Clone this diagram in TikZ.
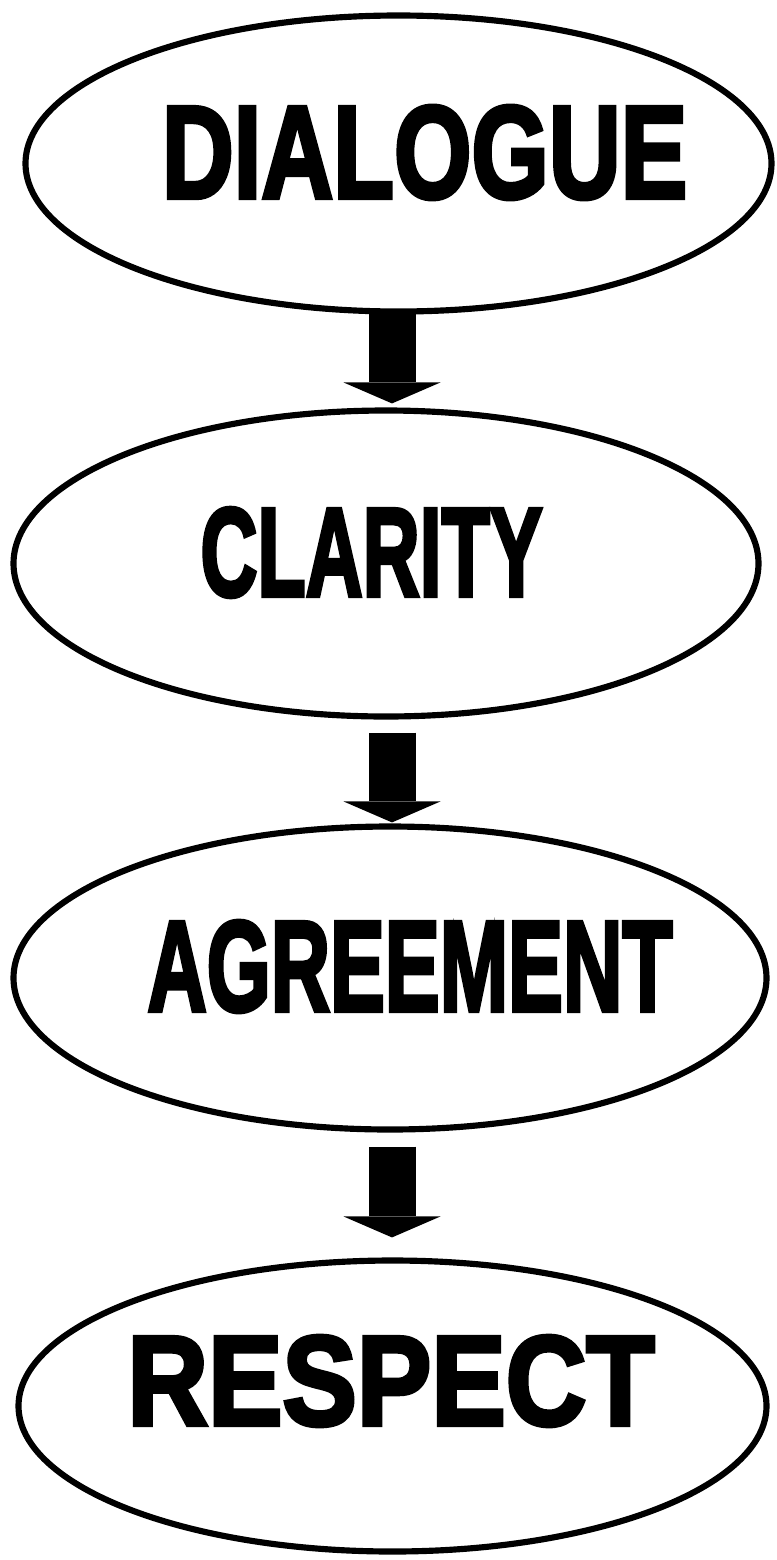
\documentclass[tikz,border=0pt]{standalone}
\usepackage{fontspec}
\setmainfont{Liberation Sans}
\newfontfamily\wordfont[FakeBold=3.5]{Liberation Sans Bold}
\usetikzlibrary{shapes.geometric,arrows.meta}
\newcommand{\fitword}[3]{\resizebox{#1}{#2}{\wordfont #3}}

\begin{document}
\begin{tikzpicture}[oval/.style={ellipse, draw, line width=3.5pt, inner sep=0pt}, word/.style={inner sep=0pt, anchor=center}, flow/.style={line width=0.94cm, -{Triangle[width=1.94cm, length=0.42cm, line width=0pt]}}]
	\useasboundingbox (0,0) rectangle (15.54,-31.2);
	\coordinate (axis) at (7.84,0);
	\node[oval, minimum width=14.92cm, minimum height=5.92cm] (dialogue) at (7.97,-3.27) {};
	\node[oval, minimum width=14.90cm, minimum height=6.12cm] (clarity) at (7.72,-11.27) {};
	\node[oval, minimum width=15.06cm, minimum height=6.06cm] (agreement) at (7.80,-19.56) {};
	\node[oval, minimum width=14.96cm, minimum height=5.82cm] (respect) at (7.85,-28.12) {};
	\node[word] (dialoguetext) at (8.49,-3.05) {\fitword{10.5cm}{1.84cm}{DIALOGUE}};
	\node[word] (claritytext) at (7.43,-11.05) {\fitword{6.84cm}{1.76cm}{CLARITY}};
	\node[word] (agreementtext) at (8.20,-19.33) {\fitword{10.5cm}{1.80cm}{AGREEMENT}};
	\node[word] (respecttext) at (7.82,-27.62) {\fitword{10.54cm}{1.78cm}{RESPECT}};
	\draw[flow, shorten <=-0.1cm, shorten >=0.08cm] (dialogue.south -| axis) -- (clarity.north -| axis);
	\draw[flow, shorten <=0.26cm, shorten >=0.02cm] (clarity.south -| axis) -- (agreement.north -| axis);
	\draw[flow, shorten <=0.28cm, shorten >=0.4cm] (agreement.south -| axis) -- (respect.north -| axis);
\end{tikzpicture}
\end{document}
